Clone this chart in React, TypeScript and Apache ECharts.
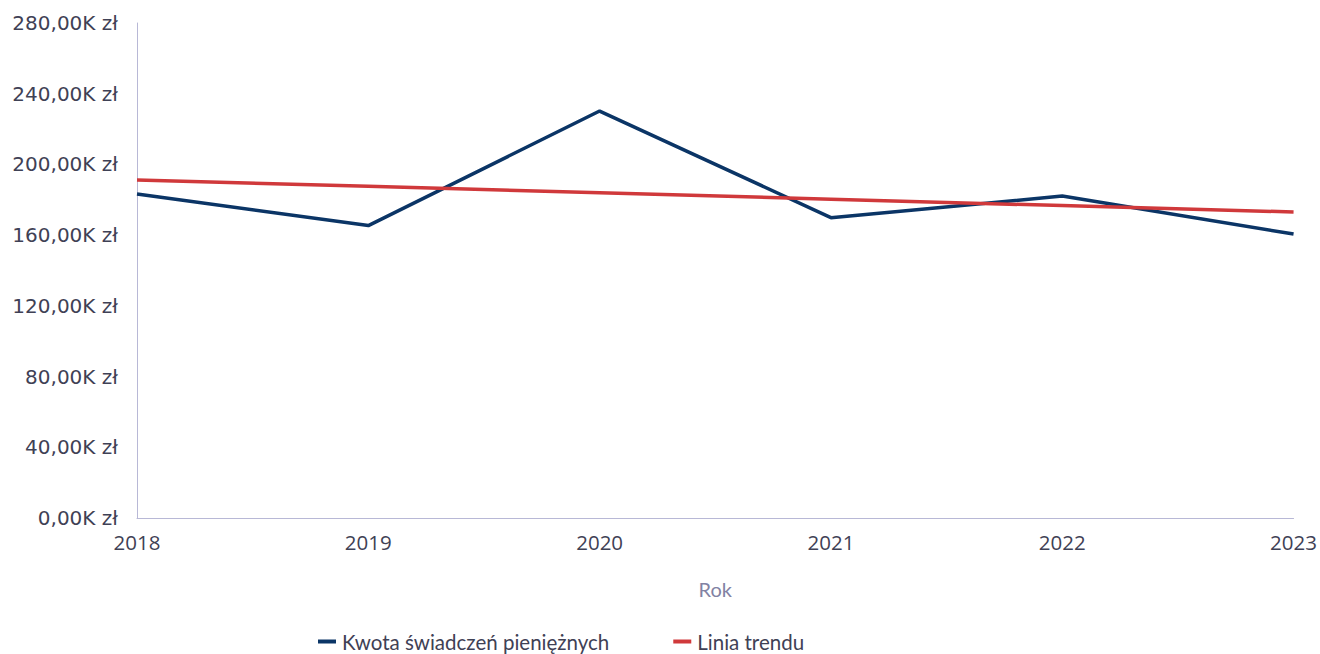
import React, { useEffect, useRef } from "react";
import * as echarts from "echarts";

const years = ["2018", "2019", "2020", "2021", "2022", "2023"];
const kwota = [183.3, 165.4, 230.2, 169.9, 182.1, 160.6];
const trend = [191.2, 187.6, 184.0, 180.3, 176.7, 173.1];
const yTicks = { min: 0, max: 280, interval: 40 };
const seriesNames = ["Kwota świadczeń pieniężnych", "Linia trendu"];
const xAxisTitle = "Rok";

export default function App() {
  const ref = useRef<HTMLDivElement>(null);
  useEffect(() => {
    if (!ref.current) return;
    const chart = echarts.init(ref.current, undefined, { renderer: "svg" });
    chart.setOption({
      animation: false,
      backgroundColor: "#ffffff",
      grid: { left: 137, right: 25, top: 23, bottom: 136, containLabel: false },
      legend: {
        left: 318,
        top: 631,
        padding: 0,
        icon: "rect",
        itemWidth: 18,
        itemHeight: 4,
        itemGap: 64,
        textStyle: { fontFamily: "Lato", fontSize: 20.5, color: "#3f4155", padding: [0, 0, 0, 1] },
        data: seriesNames,
      },
      xAxis: {
        type: "category",
        data: years,
        boundaryGap: false,
        name: xAxisTitle,
        nameLocation: "middle",
        nameGap: 61,
        nameTextStyle: { fontFamily: "Lato", fontSize: 20, color: "#8282a3" },
        axisLine: { show: true, lineStyle: { color: "#b8b8d6", width: 1 } },
        axisTick: { show: false },
        axisLabel: {
          fontFamily: "Open Sans",
          fontSize: 20.5,
          color: "#3f4155",
          margin: 13,
          showMinLabel: true,
          showMaxLabel: true,
        },
        splitLine: { show: false },
      },
      yAxis: {
        type: "value",
        min: yTicks.min,
        max: yTicks.max,
        interval: yTicks.interval,
        axisLine: { show: true, lineStyle: { color: "#b8b8d6", width: 1 } },
        axisTick: { show: false },
        splitLine: { show: false },
        axisLabel: {
          fontFamily: "DejaVu Sans",
          fontSize: 20,
          color: "#3f4155",
          margin: 19,
          formatter: (v: number) => v.toFixed(2).replace(".", ",") + "K zł",
        },
      },
      series: [
        {
          name: seriesNames[0],
          type: "line",
          data: kwota,
          symbol: "none",
          lineStyle: { color: "#0b3566", width: 3.5 },
          itemStyle: { color: "#0b3566" },
          z: 2,
        },
        {
          name: seriesNames[1],
          type: "line",
          data: trend,
          symbol: "none",
          lineStyle: { color: "#d0393b", width: 3.5 },
          itemStyle: { color: "#d0393b" },
          z: 3,
        },
      ],
    });
    return () => chart.dispose();
  }, []);
  return <div ref={ref} style={{ width: 1320, height: 654, position: "absolute", left: 0, top: 0 }} />;
}
